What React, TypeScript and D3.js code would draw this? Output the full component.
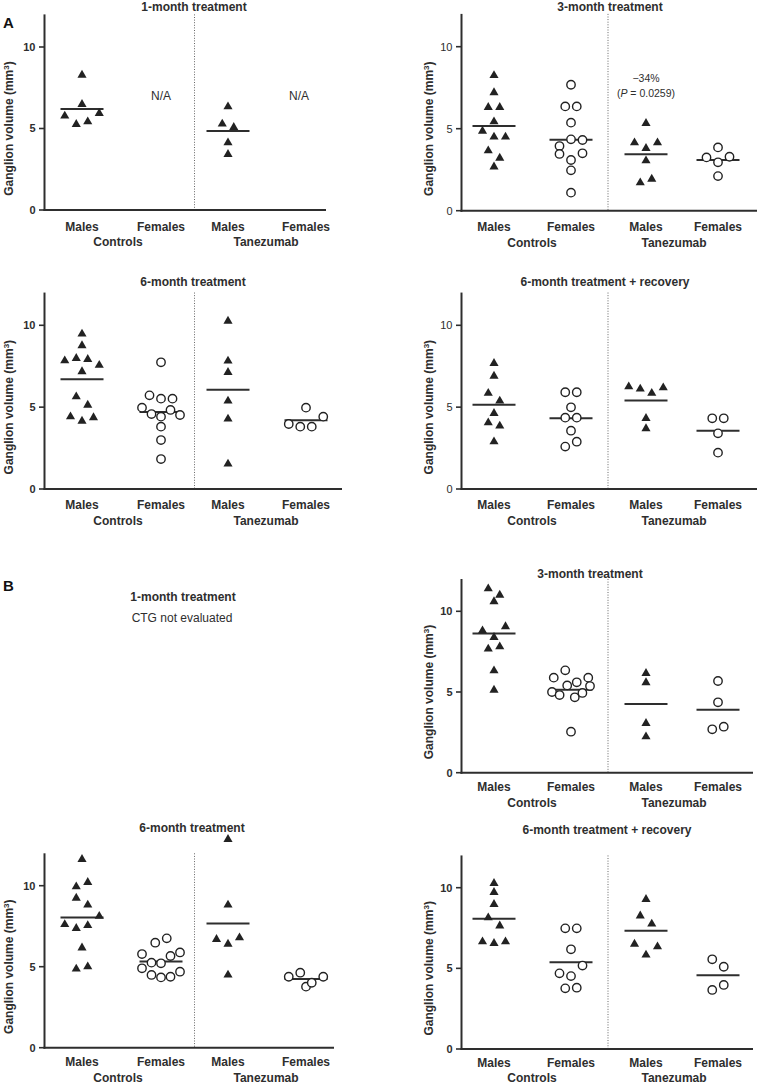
import React from "react";
import * as d3 from "d3";

// ---------- data (listed left-to-right within each cluster) ----------
const categories = ["Males", "Females", "Males", "Females"];
const groups = ["Controls", "Tanezumab"];
const yTicks = [0, 5, 10];
const yLabel = "Ganglion volume (mm\u00B3)";

// Panel A – 1-month treatment
const a1CtrlMales = [5.77, 5.26, 8.28, 6.48, 5.42, 5.93];
const a1TanMales = [5.28, 3.42, 6.34, 5.07, 4.13];
// Panel A – 3-month treatment
const a3CtrlMales = [4.86, 6.3, 2.68, 8.25, 7.2, 5.43, 4.5, 3.66, 6.3, 3.21, 4.5];
const a3CtrlFemales = [3.94, 3.46, 6.36, 4.35, 3.09, 7.68, 5.37, 1.1, 6.36, 4.31, 2.46, 3.5];
const a3TanMales = [4.15, 1.71, 5.33, 3.8, 3.05, 1.93, 4.15];
const a3TanFemales = [3.25, 3.86, 2.95, 2.11, 3.29];
// Panel A – 6-month treatment
const a6CtrlMales = [7.84, 4.42, 8.76, 7.98, 5.64, 7.17, 4.15, 9.47, 7.92, 5.13, 7.56, 4.36];
const a6CtrlFemales = [4.97, 5.72, 4.58, 3.81, 7.74, 5.52, 2.99, 1.83, 4.42, 5.52, 4.83, 4.52];
const a6TanMales = [7.82, 10.26, 5.38, 4.28, 1.53, 7.13];
const a6TanFemales = [3.97, 3.81, 4.97, 3.81, 4.42];
// Panel A – 6-month treatment + recovery
const arCtrlMales = [5.85, 4.05, 7.68, 6.9, 4.62, 2.89, 5.38, 3.85];
const arCtrlFemales = [4.99, 5.91, 2.59, 4.36, 3.56, 5.91, 2.89, 4.36];
const arTanMales = [6.25, 6.11, 3.69, 5.85, 4.32, 6.19];
const arTanFemales = [4.32, 3.4, 2.22, 4.32];
// Panel B – 3-month treatment
const b3CtrlMales = [8.8, 10.6, 7.67, 11.4, 8.39, 6.32, 5.12, 11.01, 7.81, 9.05];
const b3CtrlFemales = [5.0, 5.89, 4.81, 5.41, 6.34, 4.67, 2.54, 5.6, 4.94, 5.89, 5.37];
const b3TanMales = [5.58, 3.06, 2.23, 6.16];
const b3TanFemales = [2.69, 5.68, 4.36, 2.85];
// Panel B – 6-month treatment
const b6CtrlMales = [7.61, 9.94, 9.24, 7.37, 4.86, 11.63, 6.17, 10.21, 8.81, 7.55, 5.0, 8.12];
const b6CtrlFemales = [5.78, 4.9, 5.25, 4.49, 6.48, 5.21, 4.34, 6.75, 5.66, 4.38, 5.88, 4.69];
const b6TanMales = [6.69, 12.86, 8.81, 6.4, 4.49, 6.79];
const b6TanFemales = [4.38, 3.77, 4.63, 4.01, 4.38];
// Panel B – 6-month treatment + recovery
const brCtrlMales = [6.65, 8.14, 10.27, 8.97, 6.55, 9.71, 7.64, 6.65];
const brCtrlFemales = [4.69, 3.76, 7.48, 6.18, 4.52, 7.48, 3.8, 5.17];
const brTanMales = [6.51, 8.26, 9.28, 5.83, 7.75, 6.34];
const brTanFemales = [5.56, 3.66, 5.1, 3.97];

// ---------- layout ----------
const FONT = "'Liberation Sans', Arial, Helvetica, sans-serif";
const INK = "#2e2e2e";

type Col = { axisX: number; cats: number[]; divider: number; groupX: number[]; yLabelX: number };
const COLS: Record<string, Col> = {
  L: { axisX: 44.5, cats: [82, 161, 228, 306], divider: 194.5, groupX: [118, 266], yLabelX: 9 },
  R: { axisX: 461.5, cats: [494, 571, 646, 718], divider: 608, groupX: [532, 674], yLabelX: 429 },
};

type Panel = {
  key: string;
  title: string;
  titleX: number;
  titleY: number;
  col: string;
  right: number;
  y0: number;
  y10: number;
  series: (number[] | null)[];
  tickBold: boolean;
  catDy: number;
  na?: boolean;
  note?: string[];
};

const panels: Panel[] = [
  { key: "A1", title: "1-month treatment", titleX: 194, titleY: 7, col: "L", right: 326, y0: 210, y10: 47,
    series: [a1CtrlMales, null, a1TanMales, null], tickBold: true, catDy: 16.5, na: true },
  { key: "A2", title: "3-month treatment", titleX: 610, titleY: 7, col: "R", right: 757, y0: 210.7, y10: 46.7,
    series: [a3CtrlMales, a3CtrlFemales, a3TanMales, a3TanFemales], tickBold: false, catDy: 16.5,
    note: ["\u221234%", "0.0259"] },
  { key: "A3", title: "6-month treatment", titleX: 193, titleY: 281.7, col: "L", right: 342, y0: 489, y10: 325.3,
    series: [a6CtrlMales, a6CtrlFemales, a6TanMales, a6TanFemales], tickBold: true, catDy: 16 },
  { key: "A4", title: "6-month treatment + recovery", titleX: 605, titleY: 281.7, col: "R", right: 757, y0: 489, y10: 325.3,
    series: [arCtrlMales, arCtrlFemales, arTanMales, arTanFemales], tickBold: false, catDy: 16 },
  { key: "B2", title: "3-month treatment", titleX: 590, titleY: 573.3, col: "R", right: 753, y0: 772.7, y10: 611.3,
    series: [b3CtrlMales, b3CtrlFemales, b3TanMales, b3TanFemales], tickBold: true, catDy: 14.5 },
  { key: "B3", title: "6-month treatment", titleX: 192, titleY: 828, col: "L", right: 334, y0: 1047.7, y10: 885.7,
    series: [b6CtrlMales, b6CtrlFemales, b6TanMales, b6TanFemales], tickBold: true, catDy: 14.5 },
  { key: "B4", title: "6-month treatment + recovery", titleX: 607, titleY: 829.3, col: "R", right: 753, y0: 1049, y10: 887.7,
    series: [brCtrlMales, brCtrlFemales, brTanMales, brTanFemales], tickBold: true, catDy: 13.5 },
];

// Prism-like row layout: points close in value share a row and are spread horizontally
function swarm(values: number[], y: (v: number) => number): number[] {
  const gap = 8.9, span = 12.5, step = 11.5, maxW = 38;
  const idx = values.map((_, i) => i).sort((a, b) => values[b] - values[a] || a - b);
  const off = new Array(values.length).fill(0);
  let row: number[] = [];
  const flush = () => {
    const r = row.slice().sort((a, b) => a - b);
    const n = r.length;
    const s = n > 1 ? Math.min(step, maxW / (n - 1)) : 0;
    r.forEach((i, k) => (off[i] = (k - (n - 1) / 2) * s));
  };
  let first = -1, prev = -1;
  for (const i of idx) {
    const py = y(values[i]);
    if (row.length && (py - y(values[prev]) > gap || py - y(values[first]) > span)) {
      flush();
      row = [];
    }
    if (!row.length) first = i;
    row.push(i);
    prev = i;
  }
  if (row.length) flush();
  return off;
}

const triPath = d3.symbol().type(d3.symbolTriangle).size(36)() as string;

function PanelView({ p }: { p: Panel }) {
  const col = COLS[p.col];
  const y = d3.scaleLinear().domain([0, 10]).range([p.y0, p.y10]);
  const x = d3.scaleLinear().domain([0, 1, 2, 3]).range(col.cats);
  const top = y(12);
  const tickW = p.tickBold ? 700 : 400;
  return (
    <g>
      <text x={p.titleX} y={p.titleY} dy="0.35em" textAnchor="middle" fontSize={12} fontWeight={700} fill={INK}>
        {p.title}
      </text>
      {/* divider */}
      <line x1={col.divider} x2={col.divider} y1={top} y2={p.y0} stroke="#666" strokeWidth={1} strokeDasharray="1,1.6" />
      {/* axes */}
      <line x1={col.axisX} x2={col.axisX} y1={top} y2={p.y0 + 1} stroke={INK} strokeWidth={2} />
      <line x1={col.axisX - 1} x2={p.right} y1={p.y0} y2={p.y0} stroke={INK} strokeWidth={2} />
      {yTicks.map((t) => (
        <g key={t}>
          <line x1={col.axisX - 5.5} x2={col.axisX} y1={y(t)} y2={y(t)} stroke={INK} strokeWidth={1.6} />
          <text x={col.axisX - 9} y={y(t)} dy="0.36em" textAnchor="end" fontSize={11} fontWeight={tickW} fill={INK}>
            {t}
          </text>
        </g>
      ))}
      <text
        transform={`translate(${col.yLabelX},${y(5)}) rotate(-90)`}
        dy="0.35em"
        textAnchor="middle"
        fontSize={12}
        fontWeight={700}
        fill={INK}
      >
        Ganglion volume (mm<tspan fontSize={8} dy="-4">3</tspan>
        <tspan dy="4">)</tspan>
      </text>
      {categories.map((c, i) => (
        <text key={i} x={x(i)} y={p.y0 + p.catDy} dy="0.35em" textAnchor="middle" fontSize={12} fontWeight={700} fill={INK}>
          {c}
        </text>
      ))}
      {groups.map((g, i) => (
        <text key={g} x={col.groupX[i]} y={p.y0 + p.catDy + 15.5} dy="0.35em" textAnchor="middle" fontSize={12} fontWeight={700} fill={INK}>
          {g}
        </text>
      ))}
      {p.series.map((vals, si) => {
        if (!vals) {
          return p.na ? (
            <text key={si} x={x(si) - (si === 3 ? 7 : 0)} y={y(7.0)} dy="0.35em" textAnchor="middle" fontSize={12} fill={INK}>
              N/A
            </text>
          ) : null;
        }
        const off = swarm(vals, y);
        const mean = d3.mean(vals) as number;
        const cx = x(si);
        const female = si % 2 === 1;
        return (
          <g key={si}>
            <line x1={cx - 21.5} x2={cx + 21.5} y1={y(mean)} y2={y(mean)} stroke={INK} strokeWidth={2} />
            {vals.map((v, k) =>
              female ? (
                <circle key={k} cx={cx + off[k]} cy={y(v)} r={4.2} fill="#fff" stroke="#222" strokeWidth={1.4} />
              ) : (
                <path key={k} d={triPath} transform={`translate(${cx + off[k]},${y(v)})`} fill="#222" />
              )
            )}
          </g>
        );
      })}
      {p.note && (
        <g fontSize={10.5} fill={INK}>
          <text x={x(2)} y={y(8.05)} dy="0.35em" textAnchor="middle">
            {p.note[0]}
          </text>
          <text x={x(2)} y={y(7.18)} dy="0.35em" textAnchor="middle">
            (<tspan fontStyle="italic">P</tspan> = {p.note[1]})
          </text>
        </g>
      )}
    </g>
  );
}

export default function App() {
  return (
    <svg
      width={760}
      height={1087}
      viewBox="0 0 760 1087"
      style={{ position: "absolute", left: 0, top: 0, background: "#fff" }}
      fontFamily={FONT}
    >
      <rect x={0} y={0} width={760} height={1087} fill="#fff" />
      <text x={3} y={28} fontSize={15} fontWeight={700} fill="#111">A</text>
      <text x={3} y={591} fontSize={15} fontWeight={700} fill="#111">B</text>
      <text x={183} y={597} dy="0.35em" textAnchor="middle" fontSize={12} fontWeight={700} fill={INK}>
        1-month treatment
      </text>
      <text x={182} y={618} dy="0.35em" textAnchor="middle" fontSize={12} fill={INK}>
        CTG not evaluated
      </text>
      {panels.map((p) => (
        <PanelView key={p.key} p={p} />
      ))}
    </svg>
  );
}
